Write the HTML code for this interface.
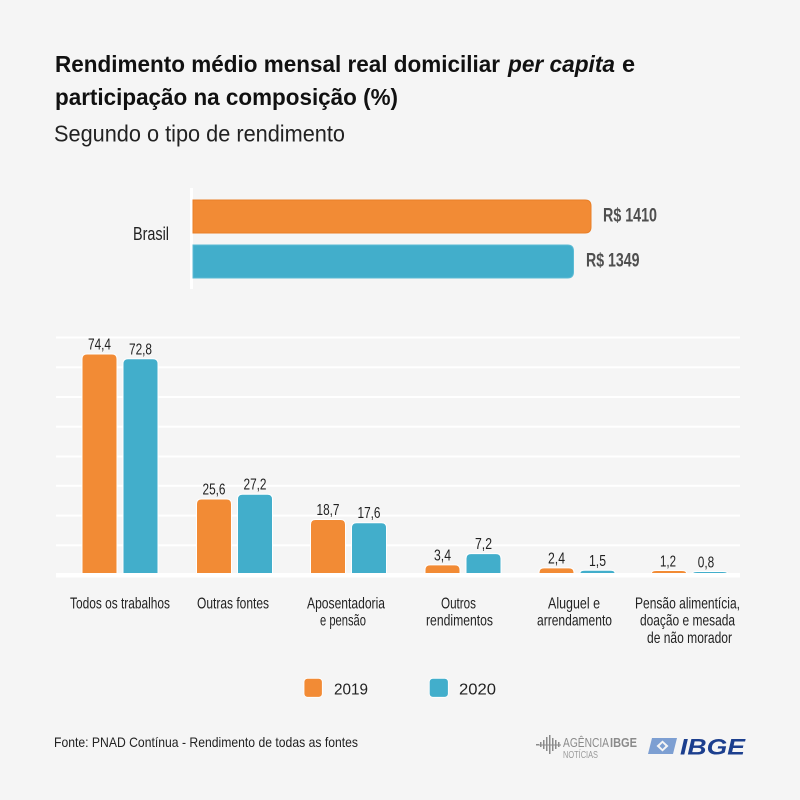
<!DOCTYPE html>
<html>
<head>
<meta charset="utf-8">
<style>
  html,body{margin:0;padding:0;background:#f5f5f5;}
  svg{display:block;}
  text{font-family:"Liberation Sans Narrow","Liberation Sans",sans-serif;}
</style>
</head>
<body>
<svg width="800" height="800" viewBox="0 0 800 800" xmlns="http://www.w3.org/2000/svg">
  <rect x="0" y="0" width="800" height="800" fill="#f5f5f5"/>

  <!-- Title -->
  <g fill="#111" font-weight="bold" font-size="23.5">
    <text x="55" y="72" textLength="445" lengthAdjust="spacingAndGlyphs">Rendimento médio mensal real domiciliar</text>
    <text x="508" y="72" font-style="italic" textLength="107" lengthAdjust="spacingAndGlyphs">per capita</text>
    <text x="622" y="72">e</text>
    <text x="55" y="105" textLength="343" lengthAdjust="spacingAndGlyphs">participação na composição (%)</text>
  </g>
  <text x="54" y="141.5" font-size="23" fill="#222" textLength="291" lengthAdjust="spacingAndGlyphs">Segundo o tipo de rendimento</text>

  <!-- Top Brasil bars -->
  <text x="133" y="240" font-size="18.5" fill="#222" textLength="36" lengthAdjust="spacingAndGlyphs">Brasil</text>
  <rect x="190" y="188" width="3" height="101" fill="#ffffff"/>
  <path d="M193,200 H585 Q591,200 591,206 V227 Q591,233 585,233 H193 Z" fill="#f28b35" stroke="#e97f27" stroke-width="1"/>
  <path d="M193,245 H567.5 Q573.5,245 573.5,251 V272 Q573.5,278 567.5,278 H193 Z" fill="#42aecb" stroke="#5cbbd4" stroke-width="1"/>
  <text x="603" y="221.7" font-size="19" font-weight="bold" fill="#4f4f4f" textLength="54" lengthAdjust="spacingAndGlyphs">R$ 1410</text>
  <text x="586" y="266.7" font-size="19" font-weight="bold" fill="#4f4f4f" textLength="53.5" lengthAdjust="spacingAndGlyphs">R$ 1349</text>

  <!-- Gridlines -->
  <g fill="#ffffff">
    <rect x="56" y="336.5" width="684" height="2"/>
    <rect x="56" y="366.3" width="684" height="2"/>
    <rect x="56" y="396" width="684" height="2"/>
    <rect x="56" y="425.7" width="684" height="2"/>
    <rect x="56" y="455.5" width="684" height="2"/>
    <rect x="56" y="484.8" width="684" height="2"/>
    <rect x="56" y="514.6" width="684" height="2"/>
    <rect x="56" y="544.3" width="684" height="2"/>
  </g>

  <!-- Bars -->
  <g stroke="#ffffff" stroke-width="1">
    <path d="M82,575 V359 Q82,354 87,354 H112 Q117,354 117,359 V575 Z" fill="#f28b35"/>
    <path d="M123,575 V363.8 Q123,358.8 128,358.8 H153 Q158,358.8 158,363.8 V575 Z" fill="#42aecb"/>
    <path d="M196.5,575 V504 Q196.5,499 201.5,499 H226.5 Q231.5,499 231.5,504 V575 Z" fill="#f28b35"/>
    <path d="M237.5,575 V499.2 Q237.5,494.2 242.5,494.2 H267.5 Q272.5,494.2 272.5,499.2 V575 Z" fill="#42aecb"/>
    <path d="M310.5,575 V524.5 Q310.5,519.5 315.5,519.5 H340.5 Q345.5,519.5 345.5,524.5 V575 Z" fill="#f28b35"/>
    <path d="M351.5,575 V527.7 Q351.5,522.7 356.5,522.7 H381.5 Q386.5,522.7 386.5,527.7 V575 Z" fill="#42aecb"/>
    <path d="M425,575 V569.9 Q425,564.9 430,564.9 H455 Q460,564.9 460,569.9 V575 Z" fill="#f28b35"/>
    <path d="M466,575 V558.6 Q466,553.6 471,553.6 H496 Q501,553.6 501,558.6 V575 Z" fill="#42aecb"/>
    <path d="M539,575 V572.5 Q539,567.9 544,567.9 H569 Q574,567.9 574,572.5 V575 Z" fill="#f28b35"/>
    <path d="M580,575 V573 Q580,570.3 585,570.3 H610 Q615,570.3 615,573 V575 Z" fill="#42aecb"/>
    <path d="M651.5,575 V573 Q651.5,570.5 656.5,570.5 H681.5 Q686.5,570.5 686.5,573 V575 Z" fill="#f28b35"/>
    <path d="M692.5,575 V573.5 Q692.5,571.5 697.5,571.5 H722.5 Q727.5,571.5 727.5,573.5 V575 Z" fill="#42aecb"/>
  </g>
  <rect x="56" y="573" width="684" height="4.5" fill="#ffffff"/>

  <!-- Value labels -->
  <g font-size="15.5" fill="#222" text-anchor="middle">
    <text x="99.5" y="349.5" textLength="23" lengthAdjust="spacingAndGlyphs">74,4</text>
    <text x="140.5" y="354.3" textLength="23" lengthAdjust="spacingAndGlyphs">72,8</text>
    <text x="214" y="494.5" textLength="23" lengthAdjust="spacingAndGlyphs">25,6</text>
    <text x="255" y="489.7" textLength="23" lengthAdjust="spacingAndGlyphs">27,2</text>
    <text x="328" y="515" textLength="23" lengthAdjust="spacingAndGlyphs">18,7</text>
    <text x="369" y="518.2" textLength="23" lengthAdjust="spacingAndGlyphs">17,6</text>
    <text x="442.5" y="560.4" textLength="17" lengthAdjust="spacingAndGlyphs">3,4</text>
    <text x="483.5" y="549.1" textLength="17" lengthAdjust="spacingAndGlyphs">7,2</text>
    <text x="556.5" y="563.4" textLength="17" lengthAdjust="spacingAndGlyphs">2,4</text>
    <text x="597.5" y="566" textLength="17" lengthAdjust="spacingAndGlyphs">1,5</text>
    <text x="668" y="566.5" textLength="16" lengthAdjust="spacingAndGlyphs">1,2</text>
    <text x="706" y="567.5" textLength="16.5" lengthAdjust="spacingAndGlyphs">0,8</text>
  </g>

  <!-- Category labels -->
  <g font-size="16" fill="#222" text-anchor="middle">
    <text x="120" y="608.3" textLength="100" lengthAdjust="spacingAndGlyphs">Todos os trabalhos</text>
    <text x="233" y="608.3" textLength="72" lengthAdjust="spacingAndGlyphs">Outras fontes</text>
    <text x="346" y="608.3" textLength="78" lengthAdjust="spacingAndGlyphs">Aposentadoria</text>
    <text x="343" y="625.7" textLength="46" lengthAdjust="spacingAndGlyphs">e pensão</text>
    <text x="458.5" y="608.3" textLength="35" lengthAdjust="spacingAndGlyphs">Outros</text>
    <text x="459.5" y="625.7" textLength="67" lengthAdjust="spacingAndGlyphs">rendimentos</text>
    <text x="574" y="608.3" textLength="52" lengthAdjust="spacingAndGlyphs">Aluguel e</text>
    <text x="574.5" y="625.7" textLength="75" lengthAdjust="spacingAndGlyphs">arrendamento</text>
    <text x="687.5" y="608.3" textLength="105" lengthAdjust="spacingAndGlyphs">Pensão alimentícia,</text>
    <text x="687.5" y="625.7" textLength="95" lengthAdjust="spacingAndGlyphs">doação e mesada</text>
    <text x="689.5" y="643.2" textLength="85" lengthAdjust="spacingAndGlyphs">de não morador</text>
  </g>

  <!-- Legend -->
  <rect x="304" y="678.3" width="18.3" height="19" rx="3.5" fill="#f28b35" stroke="#ffffff" stroke-width="0.8"/>
  <text x="334" y="694.3" font-size="16" fill="#222" textLength="34" lengthAdjust="spacingAndGlyphs">2019</text>
  <rect x="429.3" y="678.3" width="19" height="19" rx="3.5" fill="#42aecb" stroke="#ffffff" stroke-width="0.8"/>
  <text x="459" y="694.3" font-size="16" fill="#222" textLength="37" lengthAdjust="spacingAndGlyphs">2020</text>

  <!-- Footer -->
  <text x="54" y="747" font-size="14" fill="#222" textLength="304" lengthAdjust="spacingAndGlyphs">Fonte: PNAD Contínua - Rendimento de todas as fontes</text>

  <!-- Agencia IBGE logo -->
  <g fill="#8a8a8a">
    <rect x="536" y="744" width="3" height="1.5"/>
    <rect x="540" y="742" width="1.5" height="5"/>
    <rect x="543" y="740" width="1.5" height="9"/>
    <rect x="546" y="737" width="1.5" height="14"/>
    <rect x="549" y="735" width="1.5" height="19"/>
    <rect x="552" y="738" width="1.5" height="13"/>
    <rect x="555" y="740" width="1.5" height="9"/>
    <rect x="558" y="742" width="1.5" height="5"/>
    <rect x="536" y="744.5" width="25" height="1"/>
  </g>
  <text x="563" y="747" font-size="12.5" fill="#8a8a8a" textLength="46" lengthAdjust="spacingAndGlyphs">AGÊNCIA</text>
  <text x="610" y="747" font-size="12.5" font-weight="bold" fill="#8a8a8a" textLength="27" lengthAdjust="spacingAndGlyphs">IBGE</text>
  <text x="563" y="758" font-size="10" fill="#9a9a9a" textLength="35" lengthAdjust="spacingAndGlyphs">NOTÍCIAS</text>

  <!-- IBGE logo -->
  <path d="M652,738 H677 L673,754 H648 Z" fill="#7d9fd2"/>
  <path d="M662.5,740.5 L668.5,746 L662.5,751.5 L656.5,746 Z" fill="#f5f5f5"/>
  <path d="M662.5,743 L665.5,746 L662.5,749 L659.5,746 Z" fill="#7d9fd2"/>
  <text x="680" y="754.5" font-size="22" font-weight="bold" font-style="italic" fill="#1c3f8e" textLength="65" lengthAdjust="spacingAndGlyphs">IBGE</text>
</svg>
</body>
</html>
